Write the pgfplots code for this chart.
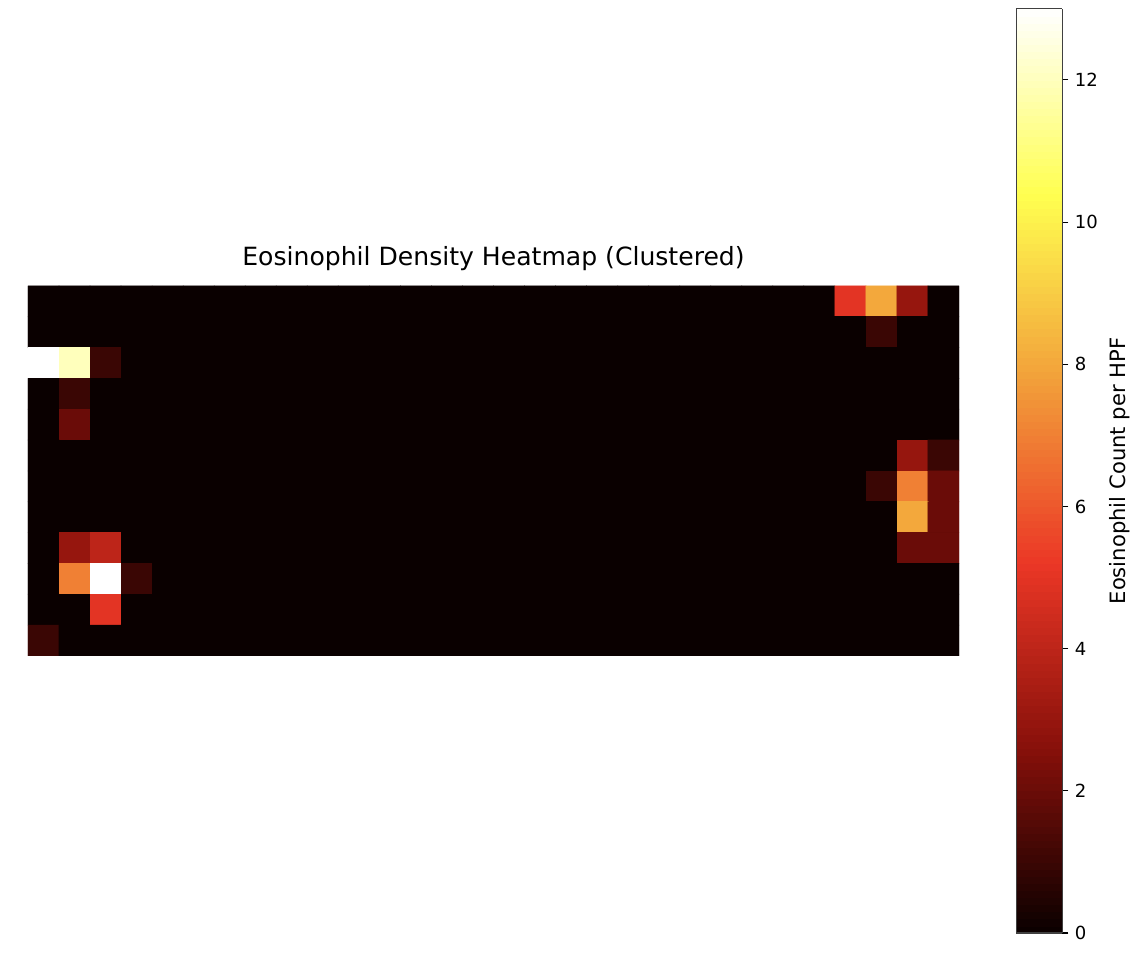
\documentclass[border=0pt]{standalone}
\usepackage{pgfplots}
\pgfplotsset{compat=1.18}
\usepackage{fontspec}
\setmainfont{DejaVu Sans}
\definecolor{zerocol}{RGB}{10,0,0}

\begin{document}
\begin{tikzpicture}
\begin{axis}[
    name=hm,
    scale only axis,
    width=515.8pt, height=205pt,
    xmin=-0.5, xmax=29.5, ymin=-0.5, ymax=11.5,
    y dir=reverse,
    enlargelimits=false,
    hide axis,
    axis background/.style={fill=zerocol},
    title={Eosinophil Density Heatmap (Clustered)},
    title style={font=\fontsize{13.9}{16}\selectfont, yshift=-1pt},
    colormap={eos}{rgb255(0cm)=(10,0,0); rgb255(2.6cm)=(135,16,10); rgb255(5.2cm)=(235,55,38);
        rgb255(7.8cm)=(242,160,58); rgb255(10.4cm)=(255,255,80); rgb255(13cm)=(255,255,255)},
    point meta min=0, point meta max=13,
    colorbar sampled,
    colorbar style={
        scale only axis,
        width=25.5pt, height=512pt,
        at={(parent axis.east)}, anchor=west, xshift=23.1pt,
        axis background/.style={},
        samples=131,
        ytick={0,2,4,6,8,10,12},
        ytick pos=right,
        tick align=outside,
        major tick length=3.5pt,
        tick style={black, line width=0.6pt},
        axis line style={draw=black!75, line width=0.6pt},
        yticklabel style={font=\fontsize{10}{12}\selectfont},
        /pgf/number format/assume math mode=true,
        ylabel={Eosinophil Count per HPF},
        ylabel style={font=\fontsize{11.7}{14}\selectfont, at={(axis description cs:2.24,0.5)}, anchor=center},
    },
]
\addplot[matrix plot*, mesh/cols=30, point meta=explicit] table[row sep=\\, x=x, y=y, meta=c] {
x y c\\
0 0 0\\ 1 0 0\\ 2 0 0\\ 3 0 0\\ 4 0 0\\ 5 0 0\\ 6 0 0\\ 7 0 0\\ 8 0 0\\ 9 0 0\\ 10 0 0\\ 11 0 0\\ 12 0 0\\ 13 0 0\\ 14 0 0\\
15 0 0\\ 16 0 0\\ 17 0 0\\ 18 0 0\\ 19 0 0\\ 20 0 0\\ 21 0 0\\ 22 0 0\\ 23 0 0\\ 24 0 0\\ 25 0 0\\ 26 0 5\\ 27 0 8\\ 28 0 3\\ 29 0 0\\
0 1 0\\ 1 1 0\\ 2 1 0\\ 3 1 0\\ 4 1 0\\ 5 1 0\\ 6 1 0\\ 7 1 0\\ 8 1 0\\ 9 1 0\\ 10 1 0\\ 11 1 0\\ 12 1 0\\ 13 1 0\\ 14 1 0\\
15 1 0\\ 16 1 0\\ 17 1 0\\ 18 1 0\\ 19 1 0\\ 20 1 0\\ 21 1 0\\ 22 1 0\\ 23 1 0\\ 24 1 0\\ 25 1 0\\ 26 1 0\\ 27 1 1\\ 28 1 0\\ 29 1 0\\
0 2 13\\ 1 2 12\\ 2 2 1\\ 3 2 0\\ 4 2 0\\ 5 2 0\\ 6 2 0\\ 7 2 0\\ 8 2 0\\ 9 2 0\\ 10 2 0\\ 11 2 0\\ 12 2 0\\ 13 2 0\\ 14 2 0\\
15 2 0\\ 16 2 0\\ 17 2 0\\ 18 2 0\\ 19 2 0\\ 20 2 0\\ 21 2 0\\ 22 2 0\\ 23 2 0\\ 24 2 0\\ 25 2 0\\ 26 2 0\\ 27 2 0\\ 28 2 0\\ 29 2 0\\
0 3 0\\ 1 3 1\\ 2 3 0\\ 3 3 0\\ 4 3 0\\ 5 3 0\\ 6 3 0\\ 7 3 0\\ 8 3 0\\ 9 3 0\\ 10 3 0\\ 11 3 0\\ 12 3 0\\ 13 3 0\\ 14 3 0\\
15 3 0\\ 16 3 0\\ 17 3 0\\ 18 3 0\\ 19 3 0\\ 20 3 0\\ 21 3 0\\ 22 3 0\\ 23 3 0\\ 24 3 0\\ 25 3 0\\ 26 3 0\\ 27 3 0\\ 28 3 0\\ 29 3 0\\
0 4 0\\ 1 4 2\\ 2 4 0\\ 3 4 0\\ 4 4 0\\ 5 4 0\\ 6 4 0\\ 7 4 0\\ 8 4 0\\ 9 4 0\\ 10 4 0\\ 11 4 0\\ 12 4 0\\ 13 4 0\\ 14 4 0\\
15 4 0\\ 16 4 0\\ 17 4 0\\ 18 4 0\\ 19 4 0\\ 20 4 0\\ 21 4 0\\ 22 4 0\\ 23 4 0\\ 24 4 0\\ 25 4 0\\ 26 4 0\\ 27 4 0\\ 28 4 0\\ 29 4 0\\
0 5 0\\ 1 5 0\\ 2 5 0\\ 3 5 0\\ 4 5 0\\ 5 5 0\\ 6 5 0\\ 7 5 0\\ 8 5 0\\ 9 5 0\\ 10 5 0\\ 11 5 0\\ 12 5 0\\ 13 5 0\\ 14 5 0\\
15 5 0\\ 16 5 0\\ 17 5 0\\ 18 5 0\\ 19 5 0\\ 20 5 0\\ 21 5 0\\ 22 5 0\\ 23 5 0\\ 24 5 0\\ 25 5 0\\ 26 5 0\\ 27 5 0\\ 28 5 3\\ 29 5 1\\
0 6 0\\ 1 6 0\\ 2 6 0\\ 3 6 0\\ 4 6 0\\ 5 6 0\\ 6 6 0\\ 7 6 0\\ 8 6 0\\ 9 6 0\\ 10 6 0\\ 11 6 0\\ 12 6 0\\ 13 6 0\\ 14 6 0\\
15 6 0\\ 16 6 0\\ 17 6 0\\ 18 6 0\\ 19 6 0\\ 20 6 0\\ 21 6 0\\ 22 6 0\\ 23 6 0\\ 24 6 0\\ 25 6 0\\ 26 6 0\\ 27 6 1\\ 28 6 7\\ 29 6 2\\
0 7 0\\ 1 7 0\\ 2 7 0\\ 3 7 0\\ 4 7 0\\ 5 7 0\\ 6 7 0\\ 7 7 0\\ 8 7 0\\ 9 7 0\\ 10 7 0\\ 11 7 0\\ 12 7 0\\ 13 7 0\\ 14 7 0\\
15 7 0\\ 16 7 0\\ 17 7 0\\ 18 7 0\\ 19 7 0\\ 20 7 0\\ 21 7 0\\ 22 7 0\\ 23 7 0\\ 24 7 0\\ 25 7 0\\ 26 7 0\\ 27 7 0\\ 28 7 8\\ 29 7 2\\
0 8 0\\ 1 8 3\\ 2 8 4\\ 3 8 0\\ 4 8 0\\ 5 8 0\\ 6 8 0\\ 7 8 0\\ 8 8 0\\ 9 8 0\\ 10 8 0\\ 11 8 0\\ 12 8 0\\ 13 8 0\\ 14 8 0\\
15 8 0\\ 16 8 0\\ 17 8 0\\ 18 8 0\\ 19 8 0\\ 20 8 0\\ 21 8 0\\ 22 8 0\\ 23 8 0\\ 24 8 0\\ 25 8 0\\ 26 8 0\\ 27 8 0\\ 28 8 2\\ 29 8 2\\
0 9 0\\ 1 9 7\\ 2 9 13\\ 3 9 1\\ 4 9 0\\ 5 9 0\\ 6 9 0\\ 7 9 0\\ 8 9 0\\ 9 9 0\\ 10 9 0\\ 11 9 0\\ 12 9 0\\ 13 9 0\\ 14 9 0\\
15 9 0\\ 16 9 0\\ 17 9 0\\ 18 9 0\\ 19 9 0\\ 20 9 0\\ 21 9 0\\ 22 9 0\\ 23 9 0\\ 24 9 0\\ 25 9 0\\ 26 9 0\\ 27 9 0\\ 28 9 0\\ 29 9 0\\
0 10 0\\ 1 10 0\\ 2 10 5\\ 3 10 0\\ 4 10 0\\ 5 10 0\\ 6 10 0\\ 7 10 0\\ 8 10 0\\ 9 10 0\\ 10 10 0\\ 11 10 0\\ 12 10 0\\ 13 10 0\\ 14 10 0\\
15 10 0\\ 16 10 0\\ 17 10 0\\ 18 10 0\\ 19 10 0\\ 20 10 0\\ 21 10 0\\ 22 10 0\\ 23 10 0\\ 24 10 0\\ 25 10 0\\ 26 10 0\\ 27 10 0\\ 28 10 0\\ 29 10 0\\
0 11 1\\ 1 11 0\\ 2 11 0\\ 3 11 0\\ 4 11 0\\ 5 11 0\\ 6 11 0\\ 7 11 0\\ 8 11 0\\ 9 11 0\\ 10 11 0\\ 11 11 0\\ 12 11 0\\ 13 11 0\\ 14 11 0\\
15 11 0\\ 16 11 0\\ 17 11 0\\ 18 11 0\\ 19 11 0\\ 20 11 0\\ 21 11 0\\ 22 11 0\\ 23 11 0\\ 24 11 0\\ 25 11 0\\ 26 11 0\\ 27 11 0\\ 28 11 0\\ 29 11 0\\
};
\end{axis}
\pgfresetboundingbox
\path ([shift={(-15.5pt,-167.3pt)}]hm.south west) rectangle ([shift={(620.5pt,363.4pt)}]hm.south west);
\end{tikzpicture}
\end{document}
